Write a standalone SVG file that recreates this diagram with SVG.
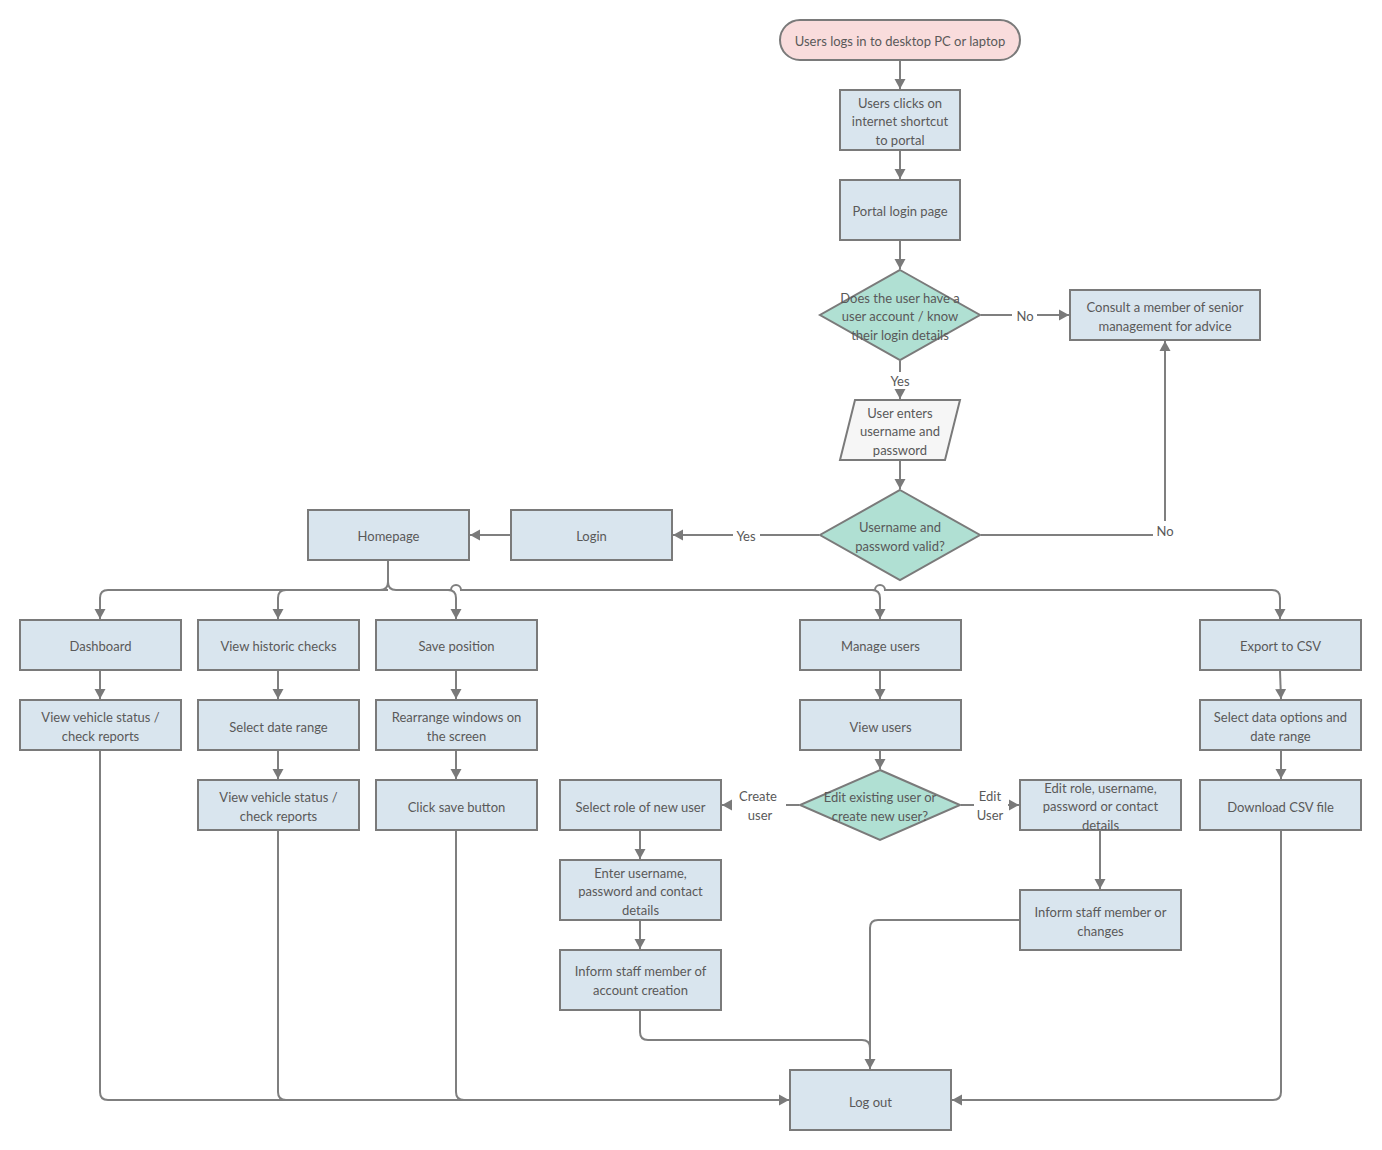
<svg xmlns="http://www.w3.org/2000/svg" width="1382" height="1150" viewBox="0 0 1382 1150">
<defs>
<style>
.box{fill:#d9e5ee;stroke:#7a7a7a;stroke-width:2}
.term{fill:#f9dcdc;stroke:#7a7a7a;stroke-width:2}
.dia{fill:#b0e0d3;stroke:#7a7a7a;stroke-width:2}
.io{fill:#f6f6f6;stroke:#7a7a7a;stroke-width:2}
text{font-family:Lato,"Open Sans","Liberation Sans",sans-serif;font-size:13px;fill:#595959;text-anchor:middle;transform:translateY(1px)}
.c{fill:none;stroke:#7f7f7f;stroke-width:2}
.a{marker-end:url(#ah)}
</style>
<marker id="ah" markerUnits="userSpaceOnUse" markerWidth="12" markerHeight="12" refX="10" refY="6" orient="auto" viewBox="0 0 12 12">
<path d="M0,0.5 L10,6 L0,11.5 z" fill="#7a7a7a"/>
</marker>
</defs>
<rect width="1382" height="1150" fill="#ffffff"/>

<g id="connectors">
<path class="c a" d="M900,61 V89"/>
<path class="c a" d="M900,151 V179"/>
<path class="c a" d="M900,241 V269"/>
<path class="c" d="M981,315 H1012"/>
<path class="c a" d="M1037,315 H1069"/>
<path class="c" d="M900,361 V372"/>
<path class="c a" d="M900,390 V399"/>
<path class="c a" d="M900,461 V489"/>
<path class="c" d="M981,535 H1153"/>
<path class="c a" d="M1165,521 V341"/>
<path class="c" d="M819,535 H760"/>
<path class="c a" d="M733,535 H673"/>
<path class="c a" d="M510,535 H470"/>
<path class="c a" d="M388,561 V582 Q388,590 380,590 H108 Q100,590 100,598 V619"/>
<path class="c a" d="M388,590 H286 Q278,590 278,598 V619"/>
<path class="c a" d="M388,582 Q388,590 396,590 H448 Q456,590 456,598 V619"/>
<path class="c a" d="M448,590 H451 A5,5 0 0 1 461,590 H872 Q880,590 880,598 V619"/>
<path class="c a" d="M872,590 H875 A5,5 0 0 1 885,590 H1272 Q1280,590 1280,598 V619"/>
<path class="c a" d="M100,671 V699"/>
<path class="c a" d="M278,671 V699"/>
<path class="c a" d="M456,671 V699"/>
<path class="c a" d="M880,671 V699"/>
<path class="c a" d="M1280,671 L1281,699"/>
<path class="c a" d="M278,751 V779"/>
<path class="c a" d="M456,751 V779"/>
<path class="c a" d="M880,751 V769"/>
<path class="c a" d="M1281,751 V779"/>
<path class="c" d="M799,805 H786"/>
<path class="c a" d="M732,805 H722"/>
<path class="c" d="M961,805 H974"/>
<path class="c a" d="M1008,805 H1019"/>
<path class="c a" d="M640,831 V859"/>
<path class="c a" d="M640,921 V949"/>
<path class="c a" d="M1100,831 V889"/>
<path class="c a" d="M100,751 V1092 Q100,1100 108,1100 H789"/>
<path class="c" d="M278,831 V1092 Q278,1100 286,1100"/>
<path class="c" d="M456,831 V1092 Q456,1100 464,1100"/>
<path class="c a" d="M1281,831 V1092 Q1281,1100 1273,1100 H952"/>
<path class="c" d="M640,1011 V1032 Q640,1040 648,1040 H862 Q870,1040 870,1048"/>
<path class="c a" d="M1019,920 H878 Q870,920 870,928 V1069"/>
</g>

<g id="edge-labels">
<text x="1025" y="320">No</text>
<text x="900" y="385">Yes</text>
<text x="1165" y="535">No</text>
<text x="746" y="540">Yes</text>
<text x="758" y="800">Create</text>
<text x="760" y="819">user</text>
<text x="990" y="800">Edit</text>
<text x="990" y="819">User</text>
</g>

<g id="n-start"><rect class="term" x="780" y="20" width="240" height="40" rx="20"/><text x="900" y="45">Users logs in to desktop PC or laptop</text></g>
<g id="n-shortcut"><rect class="box" x="840" y="90" width="120" height="60"/><text x="900" y="107">Users clicks on</text><text x="900" y="125">internet shortcut</text><text x="900" y="144">to portal</text></g>
<g id="n-loginpage"><rect class="box" x="840" y="180" width="120" height="60"/><text x="900" y="215">Portal login page</text></g>
<g id="n-hasaccount"><path class="dia" d="M900,270 L980,315 L900,360 L820,315 z"/><text x="900" y="302">Does the user have a</text><text x="900" y="320">user account / know</text><text x="900" y="339">their login details</text></g>
<g id="n-consult"><rect class="box" x="1070" y="290" width="190" height="50"/><text x="1165" y="311">Consult a member of senior</text><text x="1165" y="330">management for advice</text></g>
<g id="n-enter"><path class="io" d="M855,400 H960 L945,460 H840 z"/><text x="900" y="417">User enters</text><text x="900" y="435">username and</text><text x="900" y="454">password</text></g>
<g id="n-valid"><path class="dia" d="M900,490 L980,535 L900,580 L820,535 z"/><text x="900" y="531">Username and</text><text x="900" y="550">password valid?</text></g>
<g id="n-login"><rect class="box" x="511" y="510" width="161" height="50"/><text x="591.5" y="540">Login</text></g>
<g id="n-home"><rect class="box" x="308" y="510" width="161" height="50"/><text x="388.5" y="540">Homepage</text></g>

<g id="n-dashboard"><rect class="box" x="20" y="620" width="161" height="50"/><text x="100.5" y="650">Dashboard</text></g>
<g id="n-historic"><rect class="box" x="198" y="620" width="161" height="50"/><text x="278.5" y="650">View historic checks</text></g>
<g id="n-savepos"><rect class="box" x="376" y="620" width="161" height="50"/><text x="456.5" y="650">Save position</text></g>
<g id="n-manage"><rect class="box" x="800" y="620" width="161" height="50"/><text x="880.5" y="650">Manage users</text></g>
<g id="n-export"><rect class="box" x="1200" y="620" width="161" height="50"/><text x="1280.5" y="650">Export to CSV</text></g>

<g id="n-viewstatus1"><rect class="box" x="20" y="700" width="161" height="50"/><text x="100.5" y="721">View vehicle status /</text><text x="100.5" y="740">check reports</text></g>
<g id="n-daterange"><rect class="box" x="198" y="700" width="161" height="50"/><text x="278.5" y="731">Select date range</text></g>
<g id="n-rearrange"><rect class="box" x="376" y="700" width="161" height="50"/><text x="456.5" y="721">Rearrange windows on</text><text x="456.5" y="740">the screen</text></g>
<g id="n-viewusers"><rect class="box" x="800" y="700" width="161" height="50"/><text x="880.5" y="731">View users</text></g>
<g id="n-dataopts"><rect class="box" x="1200" y="700" width="161" height="50"/><text x="1280.5" y="721">Select data options and</text><text x="1280.5" y="740">date range</text></g>

<g id="n-viewstatus2"><rect class="box" x="198" y="780" width="161" height="50"/><text x="278.5" y="801">View vehicle status /</text><text x="278.5" y="820">check reports</text></g>
<g id="n-savebtn"><rect class="box" x="376" y="780" width="161" height="50"/><text x="456.5" y="811">Click save button</text></g>
<g id="n-selectrole"><rect class="box" x="560" y="780" width="161" height="50"/><text x="640.5" y="811">Select role of new user</text></g>
<g id="n-editorcreate"><path class="dia" d="M880,770 L960,805 L880,840 L800,805 z"/><text x="880" y="801">Edit existing user or</text><text x="880" y="820">create new user?</text></g>
<g id="n-editrole"><rect class="box" x="1020" y="780" width="161" height="50"/><text x="1100.5" y="792">Edit role, username,</text><text x="1100.5" y="810">password or contact</text><text x="1100.5" y="829">details</text></g>
<g id="n-download"><rect class="box" x="1200" y="780" width="161" height="50"/><text x="1280.5" y="811">Download CSV file</text></g>

<g id="n-enterdetails"><rect class="box" x="560" y="860" width="161" height="60"/><text x="640.5" y="877">Enter username,</text><text x="640.5" y="895">password and contact</text><text x="640.5" y="914">details</text></g>
<g id="n-informcreate"><rect class="box" x="560" y="950" width="161" height="60"/><text x="640.5" y="975">Inform staff member of</text><text x="640.5" y="994">account creation</text></g>
<g id="n-informchange"><rect class="box" x="1020" y="890" width="161" height="60"/><text x="1100.5" y="916">Inform staff member or</text><text x="1100.5" y="935">changes</text></g>
<g id="n-logout"><rect class="box" x="790" y="1070" width="161" height="60"/><text x="870.5" y="1106">Log out</text></g>
</svg>
